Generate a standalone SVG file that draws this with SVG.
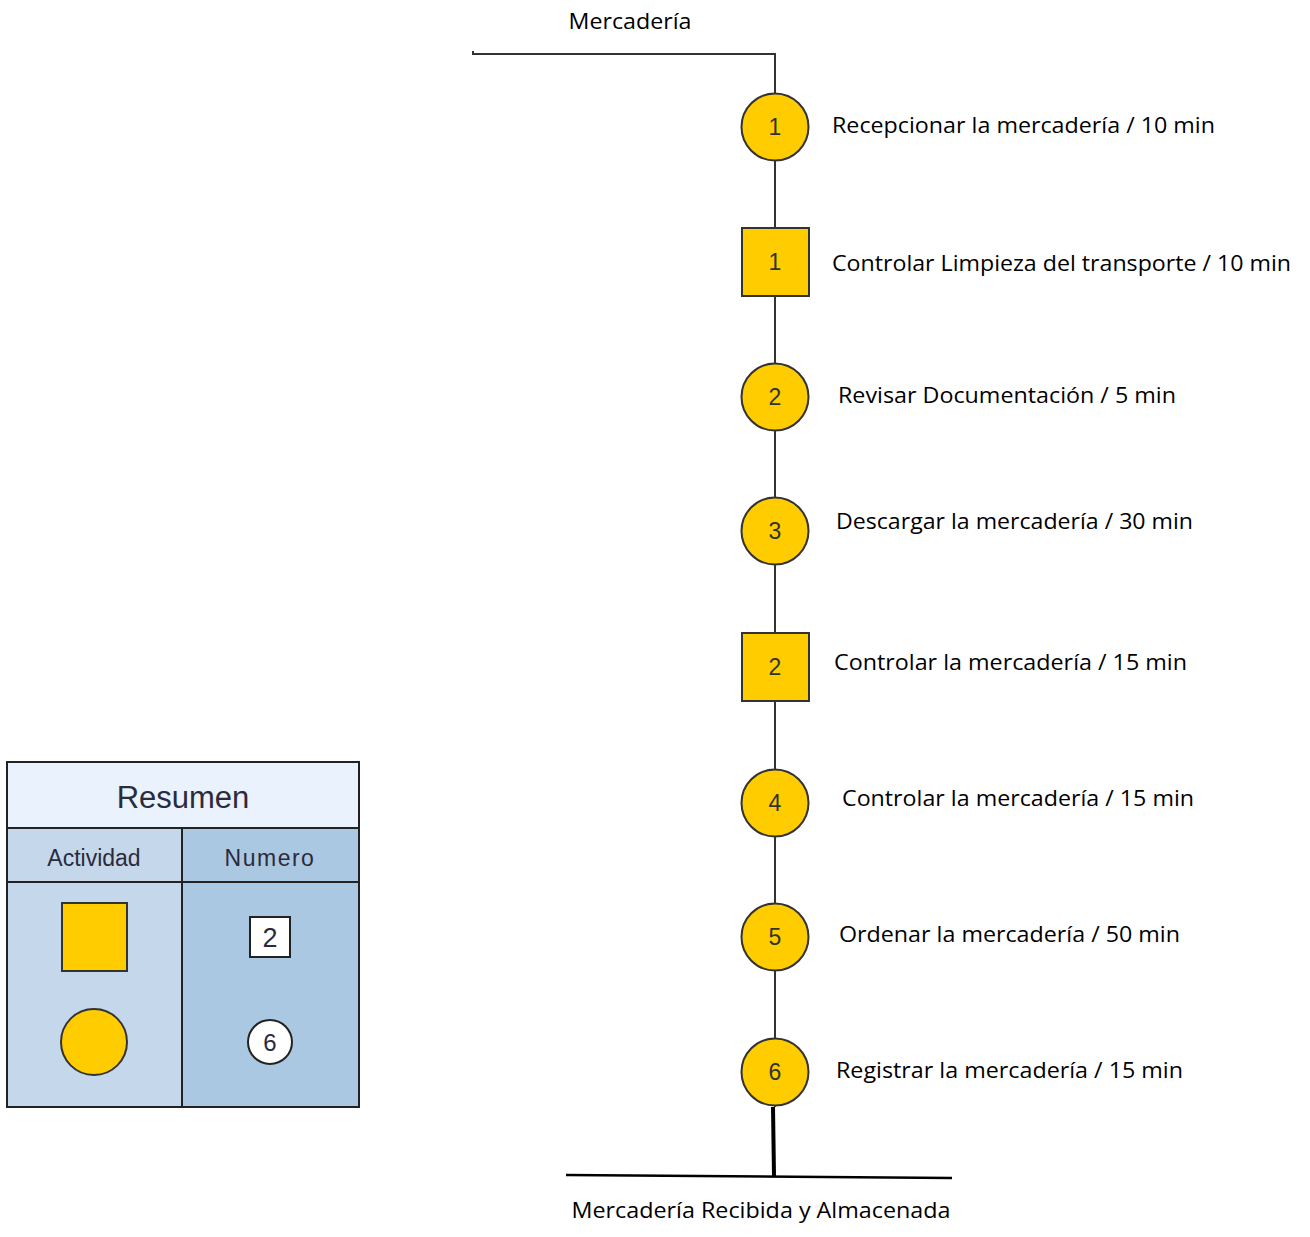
<svg xmlns="http://www.w3.org/2000/svg" width="1310" height="1237" viewBox="0 0 1310 1237">
  <style>
    .op { fill: #FFCC00; stroke: #333333; stroke-width: 2; }
    .num { font-family: "Liberation Sans", Arial, sans-serif; font-size: 23px; fill: #333333; text-anchor: middle; }
    .lbl { font-family: "Open Sans", "Noto Sans", sans-serif; font-size: 21px; fill: #000000; }
    .flow { stroke: #333333; stroke-width: 2; fill: none; }
    .grid { stroke: #222222; stroke-width: 2; fill: none; }
    .hdr { font-family: "Liberation Sans", Arial, sans-serif; fill: #2b2b3a; text-anchor: middle; }
  </style>

  <rect width="1310" height="1237" fill="#ffffff"/>

  <!-- connectors -->
  <g id="connectors">
    <path class="flow" d="M473 51 V54 H775 V1107"/>
    <line x1="773" y1="1107" x2="774" y2="1176" stroke="#000" stroke-width="4"/>
    <line x1="566" y1="1175" x2="952" y2="1178" stroke="#000" stroke-width="2.5"/>
  </g>

  <text class="lbl" x="630" y="29" text-anchor="middle" textLength="123" lengthAdjust="spacingAndGlyphs">Mercadería</text>
  <text class="lbl" x="761" y="1218" text-anchor="middle" textLength="379" lengthAdjust="spacingAndGlyphs">Mercadería Recibida y Almacenada</text>

  <g id="op1">
    <circle class="op" cx="775" cy="127" r="33.5"/>
    <text class="num" x="775" y="135">1</text>
    <text class="lbl" x="832" y="133" textLength="383" lengthAdjust="spacingAndGlyphs">Recepcionar la mercadería / 10 min</text>
  </g>
  <g id="insp1">
    <rect class="op" x="742" y="228" width="67" height="68"/>
    <text class="num" x="775" y="270">1</text>
    <text class="lbl" x="832" y="271" textLength="459" lengthAdjust="spacingAndGlyphs">Controlar Limpieza del transporte / 10 min</text>
  </g>
  <g id="op2">
    <circle class="op" cx="775" cy="397" r="33.5"/>
    <text class="num" x="775" y="405">2</text>
    <text class="lbl" x="838" y="403" textLength="338" lengthAdjust="spacingAndGlyphs">Revisar Documentación / 5 min</text>
  </g>
  <g id="op3">
    <circle class="op" cx="775" cy="531" r="33.5"/>
    <text class="num" x="775" y="539">3</text>
    <text class="lbl" x="836" y="529" textLength="357" lengthAdjust="spacingAndGlyphs">Descargar la mercadería / 30 min</text>
  </g>
  <g id="insp2">
    <rect class="op" x="742" y="633" width="67" height="68"/>
    <text class="num" x="775" y="675">2</text>
    <text class="lbl" x="834" y="670" textLength="353" lengthAdjust="spacingAndGlyphs">Controlar la mercadería / 15 min</text>
  </g>
  <g id="op4">
    <circle class="op" cx="775" cy="803" r="33.5"/>
    <text class="num" x="775" y="811">4</text>
    <text class="lbl" x="842" y="806" textLength="352" lengthAdjust="spacingAndGlyphs">Controlar la mercadería / 15 min</text>
  </g>
  <g id="op5">
    <circle class="op" cx="775" cy="937" r="33.5"/>
    <text class="num" x="775" y="945">5</text>
    <text class="lbl" x="839" y="942" textLength="341" lengthAdjust="spacingAndGlyphs">Ordenar la mercadería / 50 min</text>
  </g>
  <g id="op6">
    <circle class="op" cx="775" cy="1072" r="33.5"/>
    <text class="num" x="775" y="1080">6</text>
    <text class="lbl" x="836" y="1078" textLength="347" lengthAdjust="spacingAndGlyphs">Registrar la mercadería / 15 min</text>
  </g>

  <!-- summary table -->
  <g id="resumen">
    <rect x="7" y="762" width="352" height="66" fill="#EAF2FD"/>
    <rect x="7" y="828" width="175" height="279" fill="#C5D7EB"/>
    <rect x="182" y="828" width="177" height="279" fill="#ABC8E2"/>
    <rect class="grid" x="7" y="762" width="352" height="345"/>
    <line class="grid" x1="7" y1="828" x2="359" y2="828"/>
    <line class="grid" x1="7" y1="882" x2="359" y2="882"/>
    <line class="grid" x1="182" y1="828" x2="182" y2="1107"/>
    <text class="hdr" x="183" y="808" font-size="31">Resumen</text>
    <text class="hdr" x="94" y="866" font-size="23">Actividad</text>
    <text class="hdr" x="270" y="866" font-size="23" letter-spacing="1.5">Numero</text>
    <rect class="op" x="62" y="903" width="65" height="68"/>
    <circle class="op" cx="94" cy="1042" r="33"/>
    <rect x="250" y="917" width="40" height="40" fill="#ffffff" stroke="#222" stroke-width="2"/>
    <text class="hdr" x="270" y="947" font-size="27">2</text>
    <circle cx="270" cy="1042" r="22" fill="#ffffff" stroke="#222" stroke-width="2"/>
    <text class="hdr" x="270" y="1051" font-size="24">6</text>
  </g>
</svg>
